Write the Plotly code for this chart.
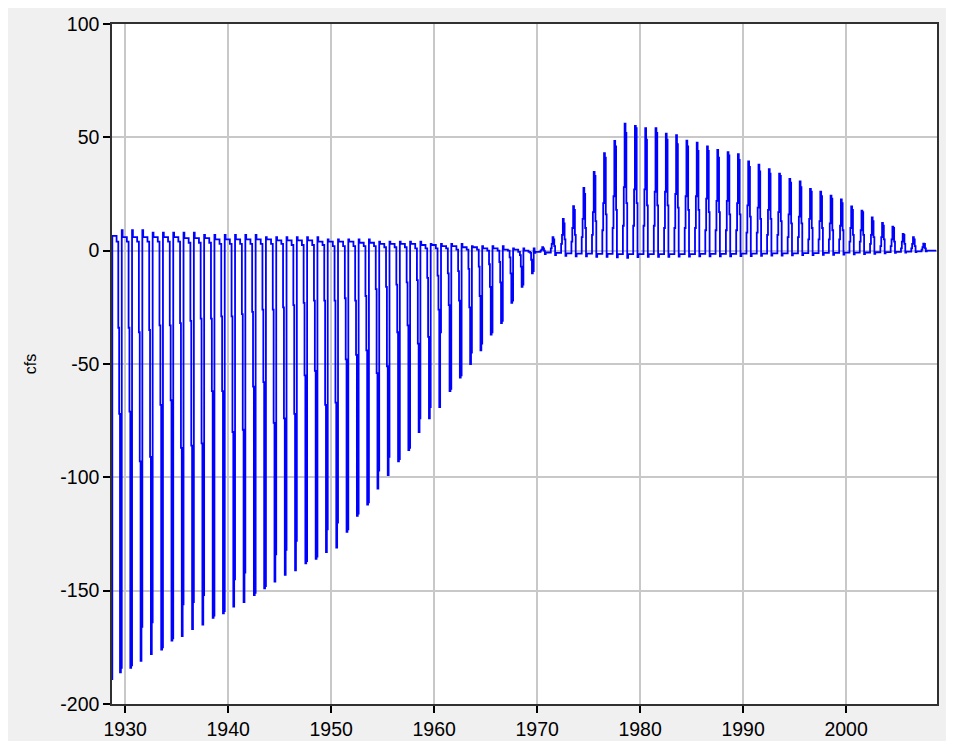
import plotly.graph_objects as go
import pandas as pd

# ---------------- data (cfs) ----------------
first_value = -189          # Sep 1928, just before the plotted window
neg_years = list(range(1929, 1970))   # water years with a withdrawal spike
neg_deep1 = [-186, -184, -181, -178, -176, -172, -170, -167, -165, -162,
             -160, -157, -155, -152, -149, -146, -143, -141, -138, -136,
             -133, -131, -124, -117, -112, -105, -99, -93, -88, -80,
             -74, -69, -62, -56, -50, -44, -37, -32, -23, -16, -10]
neg_deep2 = [-184, -183, -166, -164, -175, -171, -156, -155, -152, -161,
             -159, -145, -142, -151, -148, -134, -132, -128, -137, -135,
             -123, -120, -123, -116, -111, -97, -91, -92, -87, -74,
             -69, -36, -61, -55, -45, -41, -36, -31, -22, -15, -9]
neg_m2 = [-72, -71, -93, -91, -68, -66, -87, -86, -85, -62,
          -62, -80, -79, -60, -58, -76, -74, -72, -55, -53,
          -68, -67, -48, -46, -44, -54, -51, -36, -33, -41,
          -38, -26, -24, -22, -25, -20, -16, -14, -10, -7, -4]
neg_m1 = [-34, -34, -36, -35, -33, -33, -32, -31, -30, -30,
          -29, -29, -28, -27, -26, -26, -25, -24, -23, -22,
          -22, -22, -21, -22, -20, -17, -16, -15, -14, -13,
          -12, -11, -10, -9, -8, -7, -6, -5, -3, -2, -1]
neg_p1 = [9, 9, 9, 8, 8, 8, 8, 8, 7, 7,
          7, 7, 7, 7, 6, 6, 6, 6, 6, 6,
          5, 5, 5, 5, 5, 4, 4, 4, 4, 4,
          3, 3, 3, 3, 2, 2, 2, 2, 1, 1, 1]
neg_p2 = [6.5, 6, 6, 6, 6, 6, 6, 5.5, 5.5, 5.5,
          5, 5, 5, 5, 5, 5, 4.5, 4.5, 4.5, 4.5,
          4, 4, 4, 4, 3.5, 3.5, 3, 3, 3, 3,
          2.5, 2.5, 2, 2, 1.5, 1.5, 1, 1, 0.5, 0.5, 0]
neg_p3 = [4, 4, 4, 4, 4, 4, 4, 3.5, 3.5, 3.5,
          3, 3, 3, 3, 3, 3, 3, 2.5, 2.5, 2.5,
          2.5, 2, 2, 2, 2, 2, 1.5, 1.5, 1.5, 1,
          1, 1, 1, 0.5, 0.5, 0.5, 0, 0, 0, -0.5, -0.5]

pos_years = list(range(1970, 2008))   # water years with a return-flow spike
pos_peak1 = [1.5, 6, 14, 19.6, 27.7, 34.7, 43, 48.4, 56, 55,
             54, 54, 51.6, 51, 48.5, 47.6, 46, 44.5, 43.5, 42.6,
             39.4, 38, 36, 34, 31.7, 30.6, 27.2, 26, 24.3, 22.6,
             19.5, 17.6, 14.7, 12.2, 10.6, 7.4, 6, 3.1]
pos_peak2 = [1, 5, 12, 18, 25, 33, 41, 46, 52, 54,
             49, 52, 49, 47, 46, 44, 44, 41, 42, 40,
             37, 35, 34, 33, 30, 28, 26, 24, 23, 21,
             18, 17, 13, 11, 10, 7, 5, 3]
pos_s1 = [0, 1, 3, 4, 6, 7, 9, 10, 11, 11,
          11, 11, 10, 10, 10, 10, 9, 9, 9, 9,
          8, 8, 7, 7, 6, 6, 5, 5, 5, 5,
          4, 4, 3, 2, 2, 1, 1, 0.5]
pos_s2 = [0.5, 3, 7, 10, 14, 17, 21, 24, 28, 27,
          27, 26, 26, 25, 24, 24, 23, 22, 22, 21,
          20, 19, 18, 17, 16, 15, 14, 13, 12, 11,
          10, 9, 7, 6, 5, 4, 3, 1.5]
pos_s3 = [0, 2, 5, 7, 10, 13, 16, 18, 21, 21,
          20, 20, 20, 19, 18, 18, 17, 17, 16, 16,
          15, 14, 14, 13, 12, 12, 10, 10, 9, 9,
          7, 7, 6, 5, 4, 3, 2, 1]
pos_base = [-0.5, -0.8, -1.0, -1.2, -1.3, -1.3, -1.4, -1.4, -1.5, -1.5,
            -1.5, -1.5, -1.5, -1.5, -1.5, -1.5, -1.4, -1.4, -1.4, -1.4,
            -1.3, -1.3, -1.3, -1.2, -1.2, -1.2, -1.1, -1.1, -1.0, -1.0,
            -0.9, -0.9, -0.8, -0.7, -0.6, -0.5, -0.4, -0.3]
pos_dip = [-1.0, -1.5, -2.0, -2.3, -2.5, -2.5, -2.7, -2.7, -3.0, -3.2,
           -2.8, -2.7, -2.7, -2.7, -2.6, -2.6, -2.5, -2.5, -2.5, -2.5,
           -2.4, -2.4, -2.3, -2.2, -2.2, -2.1, -2.0, -2.0, -1.9, -1.8,
           -1.7, -1.6, -1.5, -1.4, -1.2, -1.0, -0.8, -0.6]
last_values = [-0.3, 0, 0, 0, 0, 0, 0, 0, 0, 0, 0, 0, 0]  # Oct 2007 - Oct 2008

y_tick_vals = [-200, -150, -100, -50, 0, 50, 100]
y_tick_text = ["-200", "-150", "-100", "-50", "0", "50", "100"]
x_tick_years = ["1930", "1940", "1950", "1960", "1970", "1980", "1990", "2000"]

# ---------------- monthly series (water year Oct..Sep) ----------------
values = [first_value]
for i in range(len(neg_years)):
    values += [neg_p2[i]] * 5 + [neg_p3[i]] * 2 + [neg_m1[i], neg_m2[i],
               neg_deep1[i], neg_deep2[i], neg_p1[i]]
for i in range(len(pos_years)):
    values += [pos_dip[i]] + [pos_base[i]] * 6 + [pos_s1[i], pos_s2[i],
               pos_peak1[i], pos_peak2[i], pos_s3[i]]
values += last_values
dates = pd.date_range("1928-09-01", periods=len(values), freq="MS")

fig = go.Figure()
fig.add_trace(go.Scatter(x=dates, y=values, mode="lines",
                         line=dict(color="#0000ff", width=1.8, shape="hv"),
                         showlegend=False, hoverinfo="x+y"))

font = dict(family="Liberation Sans, Arial, sans-serif", size=19.5, color="#000000")
fig.update_layout(
    width=938, height=733,
    margin=dict(l=104, r=9, t=16, b=37, pad=0, autoexpand=False),
    paper_bgcolor="#f0f0f0", plot_bgcolor="#ffffff",
    font=font,
    xaxis=dict(type="date", range=["1928-09-20", "2008-10-30"],
               automargin=False,
               tickmode="array",
               tickvals=[y + "-01-01" for y in x_tick_years],
               ticktext=x_tick_years,
               showgrid=True, gridcolor="#c8c8c8", gridwidth=1.5,
               zeroline=False, showline=True, linecolor="#303030",
               linewidth=1.5, mirror=True,
               ticks="outside", ticklen=7, tickwidth=1.5, tickcolor="#000000",
               tickfont=font),
    yaxis=dict(range=[-200, 100], tickmode="array", automargin=False,
               tickvals=y_tick_vals, ticktext=y_tick_text,
               showgrid=True, gridcolor="#c8c8c8", gridwidth=1.5,
               zeroline=False, showline=True, linecolor="#303030",
               linewidth=1.5, mirror=True,
               ticks="outside", ticklen=7, tickwidth=1.5, tickcolor="#000000",
               tickfont=font,
               title=dict(text="cfs", font=dict(family="Liberation Sans, Arial, sans-serif",
                                                size=16, color="#000000"),
                          standoff=20)),
)

fig.write_html("out.html")
